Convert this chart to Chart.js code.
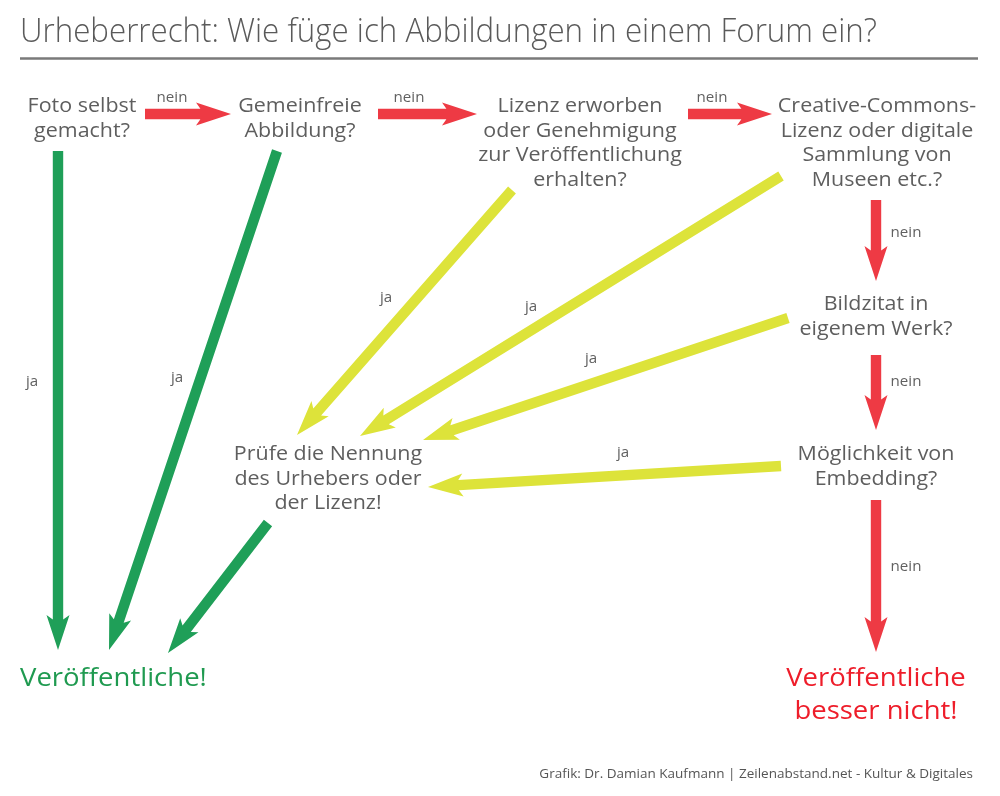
<!DOCTYPE html>
<html><head><meta charset="utf-8">
<script src="https://cdn.jsdelivr.net/npm/chart.js@4"></script>
<style>html,body{margin:0;padding:0;background:#fff}#wrap{width:1000px;height:796px;position:relative}</style>
</head><body><div id="wrap"><canvas id="c"></canvas></div>
<script>
// ---- content ----
const titleText = "Urheberrecht: Wie füge ich Abbildungen in einem Forum ein?";
const footerText = "Grafik: Dr. Damian Kaufmann | Zeilenabstand.net - Kultur & Digitales";
const nodeLines = [
  ["Foto selbst", "gemacht?"],
  ["Gemeinfreie", "Abbildung?"],
  ["Lizenz erworben", "oder Genehmigung", "zur Veröffentlichung", "erhalten?"],
  ["Creative-Commons-", "Lizenz oder digitale", "Sammlung von", "Museen etc.?"],
  ["Bildzitat in", "eigenem Werk?"],
  ["Möglichkeit von", "Embedding?"],
  ["Prüfe die Nennung", "des Urhebers oder", "der Lizenz!"]
];
const nodeX = [82, 300, 580, 877, 876, 876, 328];
const nodeY = [112, 112, 112, 112, 310, 460, 460]; // first baseline
const outcomeLines = [["Veröffentliche!"], ["Veröffentliche", "besser nicht!"]];
const outcomeX = [20, 876];
const outcomeY = [686, 686];

// arrows: start, tip, answer label, label position
const arrowFrom  = [[145,114],[378,114],[688,114],[876,200],[876,355],[876,500],[58,151],[277,151],[268,523],[512,190],[781,176],[788,318],[781,466]];
const arrowTo    = [[231,114],[477,114],[772,114],[876,281],[876,430],[876,652],[58,650],[109,650],[168,653],[297,435],[360,436],[423,440],[428,487]];
const arrowColorKey = ["red","red","red","red","red","red","green","green","green","yellow","yellow","yellow","yellow"];
const arrowLabel = ["nein","nein","nein","nein","nein","nein","ja","ja","ja","ja","ja","ja","ja"];
const labelPos   = [[172,97],[409,97],[712,97],[906,232],[906,381],[906,566],[32,381],[177,377],null,[386,297],[531,306],[591,358],[623,452]];

const colors = { red: "#ee3a44", green: "#1f9f58", yellow: "#dde33a" };
const textGray = "#5e5e5e";

const datasets = arrowFrom.map((f, i) => ({
  label: "arrow" + i,
  data: [{x: f[0], y: f[1]}, {x: arrowTo[i][0], y: arrowTo[i][1]}],
  showLine: false, pointRadius: 0, borderWidth: 0,
  arrowColor: colors[arrowColorKey[i]]
}));

const FONT = "'Open Sans', 'Noto Sans', sans-serif";

function stretchText(ctx, text, x, y, sx, align) {
  const w = ctx.measureText(text).width * sx;
  let left = x;
  if (align === "center") left = x - w / 2;
  else if (align === "right") left = x - w;
  ctx.save();
  ctx.textAlign = "left";
  ctx.translate(left, y);
  ctx.scale(sx, 1);
  ctx.fillText(text, 0, 0);
  ctx.restore();
}

const flowPlugin = {
  id: "flow",
  afterDatasetsDraw(chart) {
    const ctx = chart.ctx, xs = chart.scales.x, ys = chart.scales.y;
    const px = v => xs.getPixelForValue(v), py = v => ys.getPixelForValue(v);
    ctx.save();
    ctx.textBaseline = "alphabetic";
    // title
    ctx.fillStyle = "#5a5a5a";
    ctx.font = "300 33px " + FONT;
    const tw = ctx.measureText(titleText).width;
    stretchText(ctx, titleText, px(20), py(42), (px(877) - px(20)) / tw, "left");
    // rule
    ctx.strokeStyle = "#7a7a7a"; ctx.lineWidth = 2.5;
    ctx.beginPath(); ctx.moveTo(px(20), py(58.5)); ctx.lineTo(px(978), py(58.5)); ctx.stroke();

    // arrows
    chart.data.datasets.forEach((ds) => {
      const p0 = {x: px(ds.data[0].x), y: py(ds.data[0].y)};
      const t = {x: px(ds.data[1].x), y: py(ds.data[1].y)};
      const dx = t.x - p0.x, dy = t.y - p0.y, len = Math.hypot(dx, dy);
      const ux = dx / len, uy = dy / len, vx = -uy, vy = ux;
      const w = 5.2, hl = 35, hw = 11.5, n = 8;
      const sj = hl - n + n * w / hw;
      const P = (s, o) => [t.x - ux * s + vx * o, t.y - uy * s + vy * o];
      const pts = [
        [p0.x + vx * w, p0.y + vy * w], P(sj, w), P(hl, hw), [t.x, t.y],
        P(hl, -hw), P(sj, -w), [p0.x - vx * w, p0.y - vy * w]
      ];
      ctx.fillStyle = ds.arrowColor;
      ctx.beginPath();
      pts.forEach((p, k) => k ? ctx.lineTo(p[0], p[1]) : ctx.moveTo(p[0], p[1]));
      ctx.closePath(); ctx.fill();
    });

    // edge labels
    ctx.fillStyle = "#606060";
    ctx.font = "14px " + FONT;
    arrowLabel.forEach((l, i) => {
      const p = labelPos[i];
      if (p) stretchText(ctx, l, px(p[0]), py(p[1] + 5), 1.08, "center");
    });

    // nodes
    ctx.fillStyle = textGray;
    ctx.font = "19.5px " + FONT;
    nodeLines.forEach((lines, i) => {
      lines.forEach((ln, k) => stretchText(ctx, ln, px(nodeX[i]), py(nodeY[i] + k * 24.5), 1.1, "center"));
    });

    // outcomes
    ctx.font = "25px " + FONT;
    ctx.fillStyle = "#1f9a50";
    stretchText(ctx, outcomeLines[0][0], px(outcomeX[0]), py(outcomeY[0]), 1.1, "left");
    ctx.fillStyle = "#ee1d2a";
    outcomeLines[1].forEach((ln, k) => stretchText(ctx, ln, px(outcomeX[1]), py(outcomeY[1] + k * 33), 1.1, "center"));

    // footer
    ctx.fillStyle = "#555"; ctx.font = "13px " + FONT;
    stretchText(ctx, footerText, px(973), py(778), 1.04, "right");
    ctx.restore();
  }
};

new Chart(document.getElementById("c"), {
  type: "scatter",
  data: { datasets },
  options: {
    responsive: true, maintainAspectRatio: false, animation: false,
    layout: { padding: 0 },
    plugins: { legend: { display: false }, tooltip: { enabled: false } },
    scales: {
      x: { type: "linear", min: 0, max: 1000, display: false },
      y: { type: "linear", min: 0, max: 796, reverse: true, display: false }
    }
  },
  plugins: [flowPlugin]
});
</script>
</body></html>
